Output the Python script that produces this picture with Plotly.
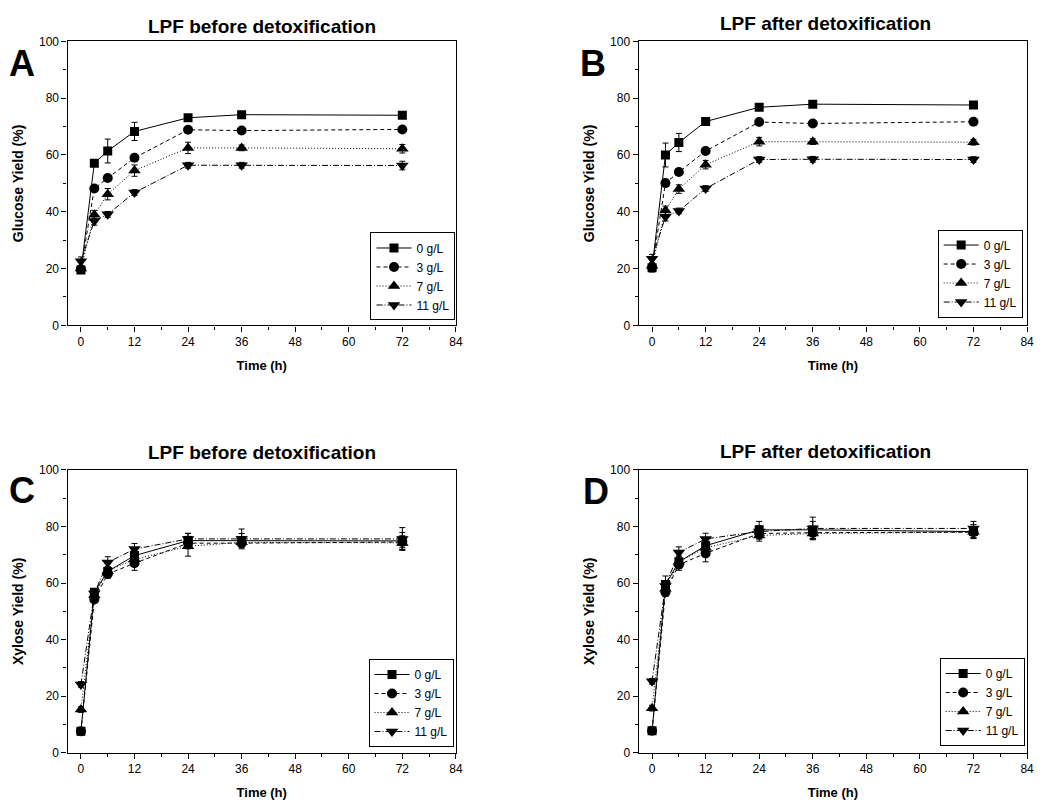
import plotly.graph_objects as go

time_h = [0, 3, 6, 12, 24, 36, 72]
series_names = ["0 g/L", "3 g/L", "7 g/L", "11 g/L"]

# Panel A: glucose, LPF before detoxification
glc_before_0 = [19.5, 57.1, 61.4, 68.3, 73.1, 74.2, 74.0]
glc_before_3 = [19.8, 48.2, 51.9, 59.0, 68.9, 68.6, 69.0]
glc_before_7 = [20.0, 39.0, 46.2, 54.5, 62.5, 62.5, 62.2]
glc_before_11 = [22.6, 36.8, 39.1, 46.8, 56.4, 56.4, 56.3]
glc_before_err_0 = [0.8, 1.0, 4.2, 3.2, 0.8, 0.6, 0.6]
glc_before_err_3 = [0.8, 1.0, 1.2, 1.0, 1.0, 0.6, 0.6]
glc_before_err_7 = [1.0, 1.5, 2.0, 2.0, 2.0, 1.0, 1.5]
glc_before_err_11 = [1.5, 1.5, 1.0, 1.0, 1.0, 1.0, 1.5]

# Panel B: glucose, LPF after detoxification
glc_after_0 = [20.3, 60.0, 64.4, 71.8, 76.8, 77.9, 77.6]
glc_after_3 = [20.5, 50.1, 54.0, 61.4, 71.6, 71.1, 71.7]
glc_after_7 = [21.0, 40.5, 48.0, 56.6, 64.7, 64.7, 64.5]
glc_after_11 = [23.5, 38.3, 40.3, 48.2, 58.4, 58.5, 58.4]
glc_after_err_0 = [1.5, 4.2, 3.2, 0.8, 0.8, 0.6, 0.6]
glc_after_err_3 = [1.0, 1.0, 1.0, 1.0, 0.8, 0.6, 0.6]
glc_after_err_7 = [1.0, 1.5, 1.5, 1.5, 1.5, 1.0, 1.0]
glc_after_err_11 = [1.5, 1.5, 1.0, 1.0, 1.0, 1.0, 1.0]

# Panel C: xylose, LPF before detoxification
xyl_before_0 = [7.6, 56.8, 64.1, 69.7, 75.0, 75.0, 74.9]
xyl_before_3 = [7.6, 54.2, 63.2, 67.0, 74.1, 74.1, 74.5]
xyl_before_7 = [15.3, 55.7, 64.3, 68.4, 73.0, 74.4, 74.2]
xyl_before_11 = [24.2, 56.3, 67.3, 72.0, 75.6, 75.6, 75.6]
xyl_before_err_0 = [0.6, 1.0, 1.5, 1.5, 2.5, 2.5, 3.0]
xyl_before_err_3 = [0.6, 1.0, 1.5, 2.5, 2.0, 1.0, 2.0]
xyl_before_err_7 = [1.0, 1.0, 1.5, 2.0, 3.5, 1.5, 2.5]
xyl_before_err_11 = [1.0, 1.0, 2.0, 2.0, 2.0, 3.5, 4.0]

# Panel D: xylose, LPF after detoxification
xyl_after_0 = [7.8, 59.5, 67.5, 73.2, 78.8, 78.8, 78.2]
xyl_after_3 = [7.8, 56.8, 66.5, 70.5, 77.5, 77.8, 78.0]
xyl_after_7 = [15.8, 58.0, 67.5, 72.5, 76.8, 77.5, 78.0]
xyl_after_11 = [25.3, 59.0, 70.8, 75.6, 78.2, 79.3, 79.3]
xyl_after_err_0 = [0.8, 3.0, 2.0, 2.5, 3.0, 3.0, 2.5]
xyl_after_err_3 = [0.8, 1.5, 2.0, 3.0, 2.0, 2.0, 2.0]
xyl_after_err_7 = [1.0, 1.5, 2.0, 2.0, 2.0, 2.0, 2.0]
xyl_after_err_11 = [1.0, 1.5, 2.0, 2.0, 2.0, 4.0, 2.5]

panel_titles = ["LPF before detoxification", "LPF after detoxification",
                "LPF before detoxification", "LPF after detoxification"]
panel_letters = ["A", "B", "C", "D"]
y_titles = ["Glucose Yield (%)", "Glucose Yield (%)", "Xylose Yield (%)", "Xylose Yield (%)"]
x_title = "Time (h)"

panels = [
    ([glc_before_0, glc_before_3, glc_before_7, glc_before_11],
     [glc_before_err_0, glc_before_err_3, glc_before_err_7, glc_before_err_11]),
    ([glc_after_0, glc_after_3, glc_after_7, glc_after_11],
     [glc_after_err_0, glc_after_err_3, glc_after_err_7, glc_after_err_11]),
    ([xyl_before_0, xyl_before_3, xyl_before_7, xyl_before_11],
     [xyl_before_err_0, xyl_before_err_3, xyl_before_err_7, xyl_before_err_11]),
    ([xyl_after_0, xyl_after_3, xyl_after_7, xyl_after_11],
     [xyl_after_err_0, xyl_after_err_3, xyl_after_err_7, xyl_after_err_11]),
]

W, H = 1042, 810
symbols = ["square", "circle", "triangle-up", "triangle-down"]
msizes = [9, 10, 11, 11]
dashes = ["solid", "4px,3px", "1px,2px", "6px,2px,1px,2px"]

# pixel boxes of each plot frame (left, top, right, bottom)
boxes = [(68, 35, 459, 324), (643, 35, 1034, 324),
         (68, 471, 459, 759), (643, 471, 1034, 759)]
legend_pos = [(373, 319), (944, 316), (371, 753), (946, 752)]
title_pos = [(264, 20), (831, 17), (264, 453), (831, 452)]
letter_pos = [(22, 58), (597, 58), (22, 492), (600, 493)]

fig = go.Figure()
layout = dict(
    autosize=True, margin=dict(l=0, r=0, t=0, b=0, pad=0),
    paper_bgcolor="white", plot_bgcolor="white",
    font=dict(family="Arial, Liberation Sans, sans-serif", color="black"),
    annotations=[],
)

for p in range(4):
    ys, errs = panels[p]
    sfx = "" if p == 0 else str(p + 1)
    leg = "legend" if p == 0 else "legend" + str(p + 1)
    for s in range(4):
        fig.add_trace(go.Scatter(
            x=time_h, y=ys[s], name=series_names[s],
            mode="lines+markers",
            xaxis="x" + sfx, yaxis="y" + sfx, legend=leg,
            line=dict(color="black", width=1, dash=dashes[s]),
            marker=dict(symbol=symbols[s], size=msizes[s], color="black"),
            error_y=dict(type="data", array=errs[s], visible=True,
                         color="black", thickness=1, width=3),
            showlegend=True,
        ))
    l, t, r, b = boxes[p]
    xa = dict(
        domain=[l / W, r / W], range=[-3, 84], anchor="y" + sfx,
        tickvals=[0, 12, 24, 36, 48, 60, 72, 84], ticks="outside", ticklen=5,
        tickwidth=1, tickcolor="black",
        minor=dict(ticks="outside", tickvals=[6, 18, 30, 42, 54, 66, 78],
                   ticklen=3, tickcolor="black", tickwidth=1),
        showline=True, linecolor="black", linewidth=1.3, mirror=True,
        showgrid=False, zeroline=False,
        tickprefix="<b>", ticksuffix="</b>",
        tickfont=dict(size=12, color="black"),
        title=dict(text="<b>" + x_title + "</b>", font=dict(size=13), standoff=12),
    )
    ya = dict(
        domain=[1 - b / H, 1 - t / H], range=[0, 100], anchor="x" + sfx,
        tickvals=[0, 20, 40, 60, 80, 100], ticks="outside", ticklen=5,
        tickwidth=1, tickcolor="black",
        minor=dict(ticks="outside", tickvals=[10, 30, 50, 70, 90],
                   ticklen=3, tickcolor="black", tickwidth=1),
        showline=True, linecolor="black", linewidth=1.3, mirror=True,
        showgrid=False, zeroline=False,
        tickprefix="<b>", ticksuffix="</b>",
        tickfont=dict(size=12, color="black"),
        title=dict(text="<b>" + y_titles[p] + "</b>", font=dict(size=14), standoff=12),
    )
    layout["xaxis" + sfx] = xa
    layout["yaxis" + sfx] = ya
    lx, ly = legend_pos[p]
    layout[leg] = dict(
        x=lx / W, y=1 - ly / H, xanchor="left", yanchor="bottom",
        bordercolor="black", borderwidth=1, bgcolor="white",
        font=dict(size=12, color="black"), itemwidth=35, tracegroupgap=0,
    )
    tx, ty = title_pos[p]
    layout["annotations"].append(dict(
        text="<b>" + panel_titles[p] + "</b>", x=tx / W, y=1 - ty / H,
        xref="paper", yref="paper", showarrow=False, xanchor="center", yanchor="middle",
        font=dict(size=19, color="black")))
    cx, cy = letter_pos[p]
    layout["annotations"].append(dict(
        text="<b>" + panel_letters[p] + "</b>", x=cx / W, y=1 - cy / H,
        xref="paper", yref="paper", showarrow=False, xanchor="center", yanchor="middle",
        font=dict(size=36, color="black")))

fig.update_layout(**layout)
post = (
    "document.documentElement.style.margin='0';"
    "document.documentElement.style.overflow='hidden';"
    "document.body.style.margin='0';"
    "document.body.style.overflow='hidden';"
    "var gd=document.getElementById('{plot_id}');"
    "gd.style.width='100vw';gd.style.height='100vh';"
    "Plotly.Plots.resize(gd);"
)
fig.write_html("out.html", default_width="100vw", default_height="100vh",
               config={"displayModeBar": False, "responsive": True},
               post_script=post)
